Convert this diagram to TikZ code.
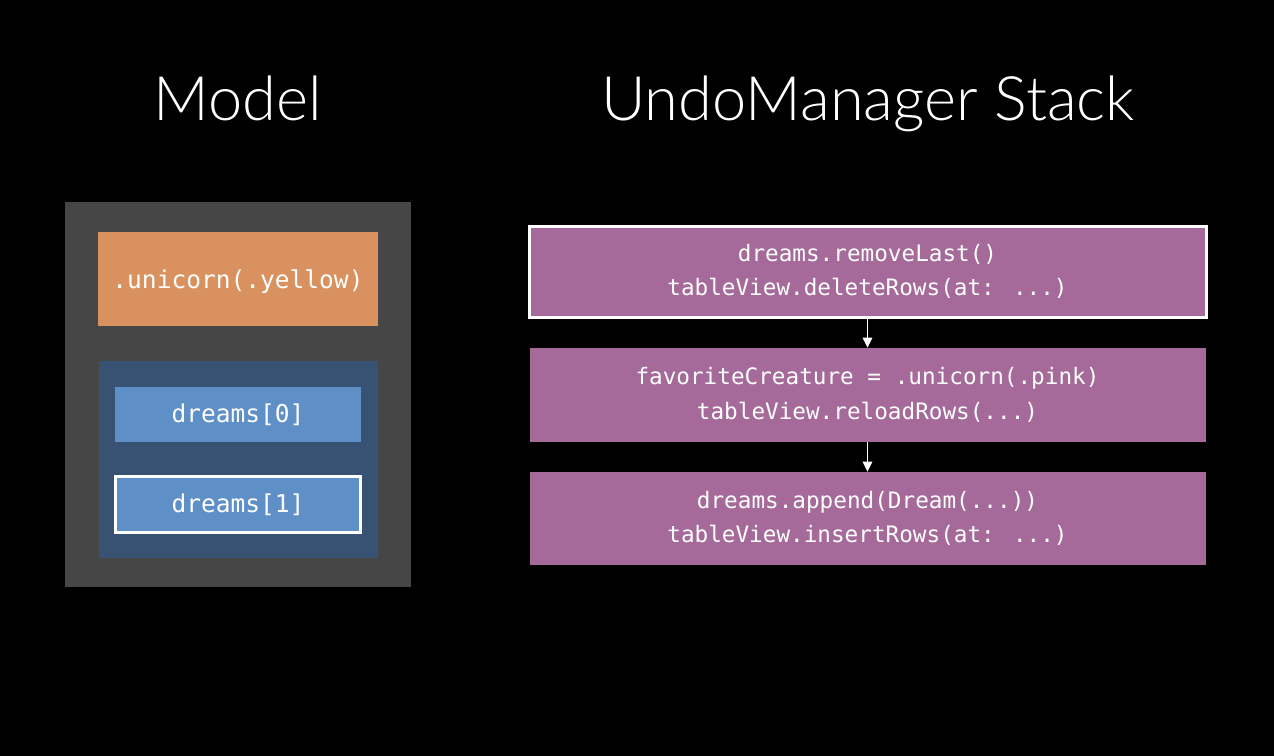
\documentclass[tikz,border=0pt]{standalone}
\usepackage{fontspec}
\usetikzlibrary{arrows.meta}
\newfontfamily\titlefont{Lato Light}
\newfontfamily\codefont{DejaVu Sans Mono}
\definecolor{panelgray}{HTML}{464646}
\definecolor{modelorange}{HTML}{D9925F}
\definecolor{arrayblue}{HTML}{375273}
\definecolor{itemblue}{HTML}{5E8FC7}
\definecolor{stackpurple}{HTML}{A56A99}
\tikzset{
  px/.style 2 args={minimum width=#1*0.75pt, minimum height=#2*0.75pt, inner sep=0pt},
  titletext/.style={anchor=base, text=white, font=\titlefont\fontsize{46}{56}\selectfont},
  lefttext/.style={text=white, font=\codefont\fontsize{18.4}{22}\selectfont},
  stacktext/.style={text=white, align=center, font=\codefont\fontsize{17}{26}\selectfont},
  selected/.style={draw=white, line width=2.25pt},
  arr/.style={draw=white, line width=1.4pt, -{Triangle[length=7.5pt, width=7pt]}}
}
\begin{document}
\begin{tikzpicture}[x=0.75pt, y=-0.75pt]
\fill[black] (0,0) rectangle (1274,756);
\useasboundingbox (0,0) rectangle (1274,756);

% titles
\node[titletext] (tmodel) at (237.5,121) {Model};
\node[titletext] (tstack) at (868,121) {UndoManager Stack};

% model panel
\node[px={346}{385}, fill=panelgray] (panel) at (238,394.5) {};
\node[px={280}{94}, fill=modelorange, lefttext, text depth=0pt] (creature) at (238,279) {.unicorn(.yellow)};
\node[px={279}{197}, fill=arrayblue] (dreams) at (238.5,459.5) {};
\node[px={246}{55}, fill=itemblue, lefttext] (d0) at (238,414.5) {dreams[0]};
\node[px={245}{56}, fill=itemblue, selected, lefttext] (d1) at (238,504.5) {dreams[1]};

% undo stack
\node[px={677}{91}, fill=stackpurple, selected, stacktext] (s1) at (867.5,271.5)
  {dreams.removeLast()\\tableView.deleteRows(at: ...)};
\node[px={676}{94}, fill=stackpurple, stacktext] (s2) at (867.5,395)
  {favoriteCreature = .unicorn(.pink)\\tableView.reloadRows(...)};
\node[px={676}{93}, fill=stackpurple, stacktext] (s3) at (867.5,518.5)
  {dreams.append(Dream(...))\\tableView.insertRows(at: ...)};

\draw[arr] (s1.south) -- (s2.north);
\draw[arr] (s2.south) -- (s3.north);
\end{tikzpicture}
\end{document}
